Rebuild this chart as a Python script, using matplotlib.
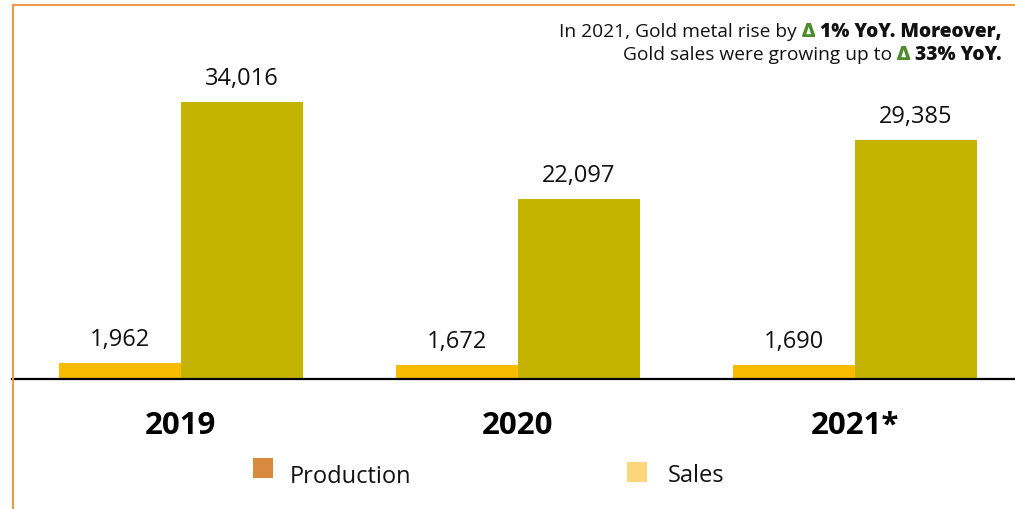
import numpy as np
import matplotlib.pyplot as plt
from matplotlib.lines import Line2D
from matplotlib.patches import Rectangle

plt.rcParams['font.family'] = ['Open Sans', 'DejaVu Sans']

years = ['2019', '2020', '2021*']
production = [1962, 1672, 1690]
sales = [34016, 22097, 29385]
series_names = ['Production', 'Sales']

bar_colors = ['#F9BC00', '#C4B400']
legend_colors = ['#D98A3E', '#FDD57A']
border = '#EE9B45'
green = '#4E8A2E'

W, H = 1015, 510
fig = plt.figure(figsize=(W / 100, H / 100), dpi=100)
ax = fig.add_axes([12 / W, 1 - 380 / H, 1 - 12 / W, (380 - 6) / H])

x = np.arange(len(years))
w = 0.362
b1 = ax.bar(x - w / 2, production, w, color=bar_colors[0], linewidth=0)
b2 = ax.bar(x + w / 2, sales, w, color=bar_colors[1], linewidth=0)

for bars, vals in ((b1, production), (b2, sales)):
    for rect, v in zip(bars, vals):
        ax.annotate(f'{v:,}', (rect.get_x() + rect.get_width() / 2, v),
                    xytext=(0, 13), textcoords='offset points',
                    ha='center', va='baseline', fontsize=17, color='#111111')

ax.set_xlim(-0.5, 2.4748)
ax.set_ylim(0, 34016 * 374 / 277)
for s in ['top', 'left', 'right']:
    ax.spines[s].set_visible(False)
ax.spines['bottom'].set_color('black')
ax.spines['bottom'].set_linewidth(1.6)
ax.set_yticks([])
ax.set_xticks(x)
ax.set_xticklabels(years, fontsize=22.5, fontweight='bold')
ax.tick_params(axis='x', length=0, pad=22)

# orange frame on the top and left
fig.add_artist(Line2D([12.5 / W, 1], [1 - 6 / H] * 2, color=border, lw=1.5))
fig.add_artist(Line2D([12.5 / W] * 2, [0, 1 - 6 / H], color=border, lw=1.5))

# legend drawn by hand
leg = [(253, 459, 290, 483), (627, 463, 668, 482)]
for (sx, sy, tx, ty), name, c in zip(leg, series_names, legend_colors):
    fig.add_artist(Rectangle((sx / W, 1 - (sy + 20) / H), 20 / W, 20 / H,
                             transform=fig.transFigure, color=c, lw=0))
    fig.text(tx / W, 1 - ty / H, name, fontsize=17, va='baseline', color='#111111')

# note in the top right, mixed weights and colours
renderer = fig.canvas.get_renderer()


def rich_line(parts, x_right, y_base, gap=5):
    xr = x_right
    for txt, kw in reversed(parts):
        t = fig.text(xr / W, 1 - y_base / H, txt, ha='right', va='baseline',
                     fontsize=13.8, **kw)
        bb = t.get_window_extent(renderer)
        xr = bb.x0 - gap


reg = dict(color='#111111')
bold = dict(color='#111111', fontweight='heavy')
delta = dict(color=green, fontweight='heavy')
rich_line([('In 2021, Gold metal rise by', reg), ('Δ', delta),
           ('1% YoY. Moreover,', bold)], 1002, 37)
rich_line([('Gold sales were growing up to', reg), ('Δ', delta),
           ('33% YoY.', bold)], 1002, 60)

fig.savefig('out.png', dpi=100)
